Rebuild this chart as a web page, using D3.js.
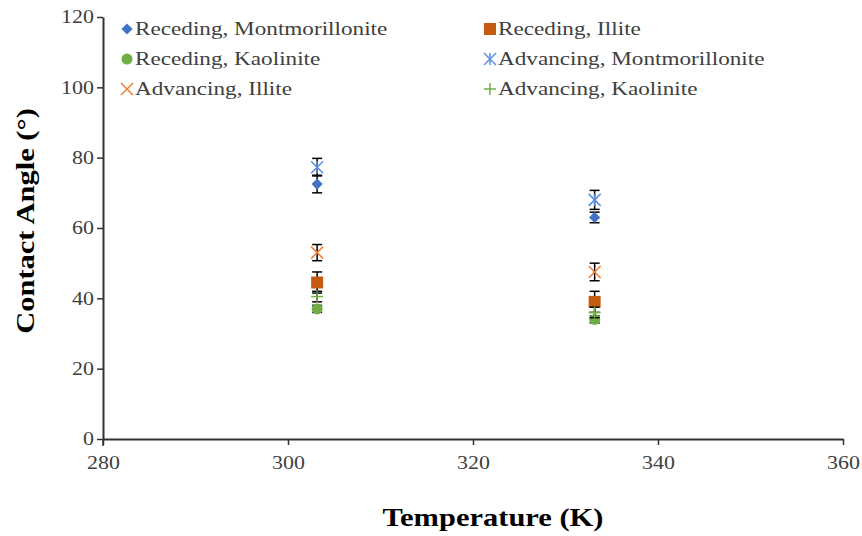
<!DOCTYPE html>
<html>
<head>
<meta charset="utf-8">
<script src="https://cdn.jsdelivr.net/npm/d3@7"></script>
<style>
  body { margin: 0; background: #fff; }
  text { font-family: "Liberation Serif", "Times New Roman", serif; }
</style>
</head>
<body>
<svg id="chart" width="862" height="536"></svg>
<script>
// data
const temps = [303.15, 333.15];
const seriesNames = [
  "Receding, Montmorillonite", "Receding, Illite",
  "Receding, Kaolinite", "Advancing, Montmorillonite",
  "Advancing, Illite", "Advancing, Kaolinite"
];
const recMont = [72.5, 63.0];
const recMontErr = [2.5, 1.5];
const recIllite = [44.5, 39.0];
const recIlliteErr = [3.0, 3.0];
const recKaol = [37.0, 34.0];
const recKaolErr = [1.0, 1.0];
const advMont = [77.3, 68.0];
const advMontErr = [2.5, 2.7];
const advIllite = [53.0, 47.5];
const advIlliteErr = [2.3, 2.5];
const advKaol = [40.5, 36.0];
const advKaolErr = [1.5, 1.5];
const xTicks = [280, 300, 320, 340, 360];
const yTicks = [0, 20, 40, 60, 80, 100, 120];

const series = [
  {name: seriesNames[0], v: recMont, e: recMontErr, sym: "diamond", color: "#4472c4"},
  {name: seriesNames[1], v: recIllite, e: recIlliteErr, sym: "square", color: "#c55a11"},
  {name: seriesNames[2], v: recKaol, e: recKaolErr, sym: "circle", color: "#70ad47"},
  {name: seriesNames[3], v: advMont, e: advMontErr, sym: "star", color: "#5b8de0"},
  {name: seriesNames[4], v: advIllite, e: advIlliteErr, sym: "x", color: "#ed7d31"},
  {name: seriesNames[5], v: advKaol, e: advKaolErr, sym: "plus", color: "#70ad47"}
];

// the source font is rendered wide, so text gets stretched horizontally
const sx = 1.22;

const svg = d3.select("#chart");
const x = d3.scaleLinear().domain([280, 360]).range([103, 843]);
const y = d3.scaleLinear().domain([0, 120]).range([439, 17]);

// axes
const gx = svg.append("g").attr("transform", "translate(0,439)")
  .call(d3.axisBottom(x).tickValues(xTicks).tickSize(6).tickSizeOuter(0));
const gy = svg.append("g").attr("transform", "translate(103,0)")
  .call(d3.axisLeft(y).tickValues(yTicks).tickSize(6).tickSizeOuter(0));
[gx, gy].forEach(g => {
  g.select(".domain").attr("stroke", "#333").attr("stroke-width", 2);
  g.selectAll(".tick line").attr("stroke", "#333").attr("stroke-width", 1.5);
  g.selectAll(".tick text").attr("fill", "#404040")
    .style("font-family", "Liberation Serif").style("font-size", "18px")
    .attr("transform", `scale(${sx},1)`);
});
gx.selectAll(".tick text").attr("dy", "1.15em");
gy.selectAll(".tick text").attr("x", -9 / sx);
// y axis runs a bit below the x axis
svg.append("line").attr("x1", 103).attr("x2", 103).attr("y1", 439).attr("y2", 446)
  .attr("stroke", "#333").attr("stroke-width", 1.5);

// markers
function drawMarker(g, sym, color, cx, cy) {
  if (sym === "diamond") {
    g.append("path").attr("d", d3.symbol(d3.symbolDiamond2, 80)())
      .attr("transform", `translate(${cx},${cy})`).attr("fill", color);
  } else if (sym === "square") {
    g.append("rect").attr("x", cx - 6).attr("y", cy - 6).attr("width", 12).attr("height", 12)
      .attr("fill", color);
  } else if (sym === "circle") {
    g.append("circle").attr("cx", cx).attr("cy", cy).attr("r", 5.5).attr("fill", color);
  } else if (sym === "star") {
    const r = 6;
    [[-r, -r, r, r], [-r, r, r, -r], [0, -r, 0, r]].forEach(s =>
      g.append("line").attr("x1", cx + s[0]).attr("y1", cy + s[1]).attr("x2", cx + s[2]).attr("y2", cy + s[3])
        .attr("stroke", color).attr("stroke-width", 1.5));
  } else if (sym === "x") {
    const r = 6;
    [[-r, -r, r, r], [-r, r, r, -r]].forEach(s =>
      g.append("line").attr("x1", cx + s[0]).attr("y1", cy + s[1]).attr("x2", cx + s[2]).attr("y2", cy + s[3])
        .attr("stroke", color).attr("stroke-width", 1.5));
  } else if (sym === "plus") {
    const r = 6;
    [[-r, 0, r, 0], [0, -r, 0, r]].forEach(s =>
      g.append("line").attr("x1", cx + s[0]).attr("y1", cy + s[1]).attr("x2", cx + s[2]).attr("y2", cy + s[3])
        .attr("stroke", color).attr("stroke-width", 1.5));
  }
}

const plot = svg.append("g");
series.forEach(s => {
  const g = plot.append("g");
  temps.forEach((t, i) => {
    const cx = x(t);
    // error bars
    const top = y(s.v[i] + s.e[i]), bot = y(s.v[i] - s.e[i]);
    g.append("line").attr("x1", cx).attr("x2", cx).attr("y1", top).attr("y2", bot)
      .attr("stroke", "#000").attr("stroke-width", 1.5);
    [top, bot].forEach(yy => g.append("line").attr("x1", cx - 5).attr("x2", cx + 5)
      .attr("y1", yy).attr("y2", yy).attr("stroke", "#000").attr("stroke-width", 1.5));
    drawMarker(g, s.sym, s.color, cx, y(s.v[i]));
  });
});

// legend
const legend = svg.append("g");
series.forEach((s, i) => {
  const col = i % 2, row = Math.floor(i / 2);
  const lx = col === 0 ? 127 : 490, ly = 29 + row * 30;
  drawMarker(legend, s.sym, s.color, lx, ly);
  legend.append("text").attr("transform", `translate(${lx + 8},${ly + 6}) scale(${sx},1)`)
    .attr("fill", "#404040").style("font-size", "19px").text(s.name);
});

// axis titles
svg.append("text").attr("transform", `translate(493,526) scale(${sx},1)`).attr("text-anchor", "middle")
  .style("font-size", "25px").style("font-weight", "bold").text("Temperature  (K)");
svg.append("text").attr("transform", `translate(34,221) rotate(-90) scale(${sx},1)`).attr("text-anchor", "middle")
  .style("font-size", "25px").style("font-weight", "bold").text("Contact  Angle  (°)");
</script>
</body>
</html>
